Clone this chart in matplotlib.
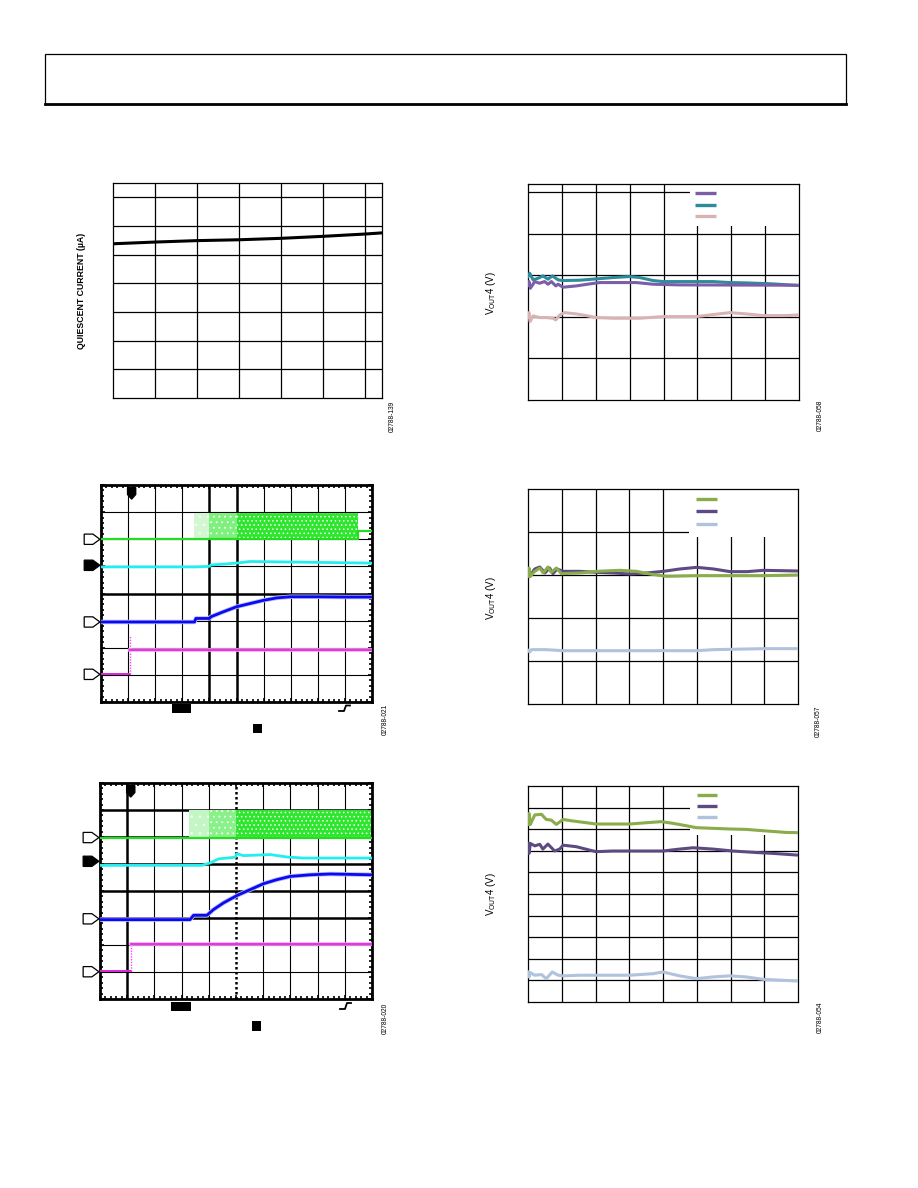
import numpy as np
import matplotlib
matplotlib.use("Agg")
import matplotlib.pyplot as plt
from matplotlib.patches import Rectangle, Polygon
from matplotlib.lines import Line2D
from matplotlib.ticker import MultipleLocator

W, H = 918, 1188
plt.rcParams['font.family'] = ['Liberation Sans', 'DejaVu Sans']
plt.rcParams['hatch.linewidth'] = 0.6

# ---- data (grid-division units) ----
# quiescent current vs. x
iq_x = [0, 1, 2, 3, 4, 5, 6, 6.4]
iq_y = [5.38, 5.44, 5.49, 5.52, 5.57, 5.64, 5.72, 5.76]

# top right: VOUT4 three series
t_teal_x = [0, 0.05, 0.15, 0.30, 0.44, 0.59, 0.72, 0.89, 1.03, 1.53, 2.02, 2.51, 3.00, 3.30, 3.69, 3.99, 5.46, 5.96, 6.45, 7.23, 8.0]
t_teal_y = [2.972, 3.052, 2.892, 2.932, 2.988, 2.908, 2.988, 2.892, 2.876, 2.884, 2.916, 2.948, 2.972, 2.948, 2.876, 2.851, 2.851, 2.827, 2.819, 2.795, 2.755]
t_purp_x = [0, 0.03, 0.07, 0.20, 0.34, 0.49, 0.59, 0.69, 0.82, 0.89, 1.03, 1.43, 1.82, 2.12, 3.20, 3.69, 4.48, 8.0]
t_purp_y = [2.771, 2.851, 2.691, 2.851, 2.811, 2.851, 2.787, 2.851, 2.747, 2.787, 2.715, 2.747, 2.795, 2.827, 2.827, 2.787, 2.771, 2.763]
t_pink_x = [0, 0.03, 0.06, 0.15, 0.34, 0.54, 0.74, 0.82, 0.94, 1.08, 1.43, 1.72, 2.02, 2.51, 3.30, 3.99, 4.97, 5.46, 5.96, 6.45, 6.94, 7.63, 8.0]
t_pink_y = [2.008, 2.104, 1.888, 2.024, 1.984, 1.984, 1.968, 1.928, 2.048, 2.104, 2.072, 2.032, 1.984, 1.968, 1.968, 2.008, 2.008, 2.056, 2.104, 2.072, 2.032, 2.032, 2.048]

# middle right
m_green_x = [0, 0.03, 0.07, 0.20, 0.35, 0.45, 0.59, 0.69, 0.84, 0.99, 1.53, 2.03, 2.72, 3.22, 3.61, 4.11, 5.0, 6.98, 8.0]
m_green_y = [2.969, 3.163, 2.969, 3.085, 3.163, 3.047, 3.186, 3.062, 3.163, 3.031, 3.047, 3.085, 3.109, 3.085, 3.023, 2.969, 2.984, 2.984, 3.0]
m_purp_x = [0, 0.05, 0.20, 0.35, 0.50, 0.64, 0.74, 0.86, 1.04, 1.53, 2.03, 2.52, 3.02, 3.51, 4.01, 4.50, 5.0, 5.50, 5.99, 6.49, 6.98, 8.0]
m_purp_y = [3.008, 2.969, 3.140, 3.186, 3.047, 3.163, 3.031, 3.140, 3.085, 3.085, 3.062, 3.047, 3.023, 3.047, 3.085, 3.140, 3.178, 3.140, 3.078, 3.078, 3.109, 3.093]
m_blue_x = [0, 0.05, 0.10, 0.54, 1.04, 5.0, 5.50, 6.49, 6.98, 8.0]
m_blue_y = [1.248, 1.209, 1.264, 1.264, 1.240, 1.240, 1.264, 1.279, 1.287, 1.287]

# bottom right
b_green_x = [0, 0.03, 0.07, 0.20, 0.40, 0.54, 0.69, 0.84, 1.04, 1.33, 1.63, 2.02, 3.01, 3.51, 3.95, 4.30, 4.69, 4.99, 5.48, 5.98, 6.47, 6.96, 7.65, 8.0]
b_green_y = [8.22, 8.73, 8.22, 8.66, 8.69, 8.45, 8.42, 8.22, 8.45, 8.38, 8.32, 8.24, 8.24, 8.30, 8.35, 8.27, 8.16, 8.07, 8.04, 8.01, 7.99, 7.93, 7.85, 7.84]
b_purp_x = [0, 0.03, 0.07, 0.20, 0.35, 0.44, 0.59, 0.79, 0.94, 1.04, 1.43, 1.83, 2.02, 2.52, 4.0, 4.49, 4.89, 5.48, 6.07, 6.77, 7.26, 8.0]
b_purp_y = [7.34, 6.88, 7.34, 7.23, 7.30, 7.08, 7.31, 6.99, 7.08, 7.26, 7.19, 7.03, 6.96, 6.99, 6.99, 7.08, 7.14, 7.08, 6.99, 6.92, 6.88, 6.80]
b_blue_x = [0, 0.03, 0.07, 0.20, 0.40, 0.54, 0.72, 0.89, 1.04, 1.53, 3.01, 3.70, 4.0, 4.49, 4.99, 5.48, 5.98, 6.47, 6.96, 8.0]
b_blue_y = [1.39, 1.16, 1.36, 1.24, 1.27, 1.08, 1.39, 1.24, 1.21, 1.24, 1.24, 1.31, 1.39, 1.21, 1.08, 1.16, 1.21, 1.16, 1.05, 0.97]

# scope shot 1 (upper)
s1_green_x = [0, 9.5, 9.5, 10]
s1_green_y = [6.0, 6.0, 6.3, 6.3]
s1_burst = [(3.42, 4.0, '#d2f7d2', '..'), (4.0, 5.0, '#7ef07e', '...'), (5.0, 9.5, '#2ee62e', '....')]
s1_burst_top = 6.95
s1_cyan_x = [0, 3.5, 4.0, 4.05, 5.0, 5.5, 7.0, 10.0]
s1_cyan_y = [4.98, 4.98, 5.0, 5.05, 5.12, 5.18, 5.16, 5.12]
s1_blue_x = [0, 3.45, 3.5, 4.0, 4.05, 4.5, 5.0, 5.5, 6.0, 6.5, 7.0, 8.0, 9.0, 10.0]
s1_blue_y = [2.95, 2.95, 3.08, 3.08, 3.14, 3.32, 3.51, 3.63, 3.75, 3.84, 3.88, 3.88, 3.87, 3.87]
s1_mag = (1.08, 1.02, 1.91, 2.46)   # step x, low, high, spike
s1_refs = [6.0, 5.04, 2.95, 1.02]

# scope shot 2 (lower)
s2_green_x = [0, 10]
s2_green_y = [5.98, 5.98]
s2_burst = [(3.29, 4.0, '#c4f5c4', '..'), (4.0, 5.0, '#8af08a', '...'), (5.0, 10.0, '#2ee62e', '....')]
s2_burst_top = 7.0
s2_cyan_x = [0, 3.75, 4.05, 4.36, 4.97, 5.03, 5.28, 6.26, 6.87, 7.48, 10.0]
s2_cyan_y = [4.95, 4.95, 5.04, 5.19, 5.25, 5.38, 5.31, 5.35, 5.26, 5.22, 5.22]
s2_blue_x = [0, 3.31, 3.44, 3.93, 4.17, 4.54, 5.03, 5.52, 6.01, 6.50, 6.99, 7.73, 8.47, 10.0]
s2_blue_y = [2.94, 2.94, 3.10, 3.10, 3.31, 3.56, 3.83, 4.05, 4.27, 4.42, 4.54, 4.60, 4.63, 4.60]
s2_mag = (1.13, 1.02, 2.05, 2.15)
s2_refs = [5.98, 5.1, 2.97, 1.01]

fig = plt.figure(figsize=(W / 100, H / 100), dpi=100)


def fx(x):
    return x / W


def fy(y):
    return 1 - y / H


def px_axes(x0, y0, x1, y1):
    return fig.add_axes([fx(x0), fy(y1), (x1 - x0) / W, (y1 - y0) / H])


def px_rect(x0, y0, x1, y1, fc='black', ec='none', lw=0):
    fig.add_artist(Rectangle((fx(x0), fy(y1)), (x1 - x0) / W, (y1 - y0) / H,
                             transform=fig.transFigure, fc=fc, ec=ec, lw=lw))


def code(x, y, s):
    fig.text(fx(x), fy(y), s, rotation=90, fontsize=4.8, ha='center', va='center')


# header box
px_rect(45, 54, 846, 104, fc='none', ec='black', lw=0.9)
fig.add_artist(Line2D([fx(45), fx(846)], [fy(104), fy(104)], color='black', lw=2.0,
                      transform=fig.transFigure))


def plain_axes(ax, xmax, ymax, xgrid, ygrid):
    ax.set_xlim(0, xmax)
    ax.set_ylim(0, ymax)
    ax.set_xticks([])
    ax.set_yticks([])
    for v in xgrid:
        ax.axvline(v, color='black', lw=0.9, zorder=1)
    for v in ygrid:
        ax.axhline(v, color='black', lw=0.9, zorder=1)
    for s in ax.spines.values():
        s.set_linewidth(0.9)


def legend_box(ax, x0, y0, ys, colors, hx):
    ax.add_patch(Rectangle((x0, y0), 1 - x0, 1 - y0, transform=ax.transAxes,
                           fc='white', ec='none', zorder=1.5))
    for y, c in zip(ys, colors):
        ax.plot(hx, [y, y], color=c, lw=2.4, transform=ax.transAxes, zorder=3,
                solid_capstyle='butt')


# ---- panel 1: quiescent current ----
ax1 = px_axes(113, 183, 382, 398)
plain_axes(ax1, 6.4, 7.5, range(1, 7), range(1, 8))
ax1.plot(iq_x, iq_y, color='black', lw=2.2, zorder=3)
fig.text(fx(81), fy(291), 'QUIESCENT CURRENT (µA)', rotation=90, fontsize=6.3,
         fontweight='bold', ha='center', va='center')
code(392, 416, '02788-139')

# ---- panel 2 ----
ax2 = px_axes(528, 184, 799, 400)
plain_axes(ax2, 8, 5.2, range(1, 8), range(1, 6))
c2 = ['#7b5ea7', '#2e8b9a', '#d9b3b3']
legend_box(ax2, 0.597, 0.807, [0.958, 0.904, 0.852], c2, [0.616, 0.694])
ax2.plot(t_pink_x, t_pink_y, color=c2[2], lw=2.2, zorder=3)
ax2.plot(t_teal_x, t_teal_y, color=c2[1], lw=2.2, zorder=3)
ax2.plot(t_purp_x, t_purp_y, color=c2[0], lw=2.2, zorder=3)
fig.text(fx(491), fy(293), r'V$_{\mathrm{OUT}}$4 (V)', rotation=90, fontsize=7,
         ha='center', va='center')
code(820, 415, '02788-058')

# ---- panel 4 ----
c46 = ['#8aac4a', '#5e4a82', '#b0c2dc']
ax4 = px_axes(528, 489, 798, 704)
plain_axes(ax4, 8, 5, range(1, 8), range(1, 5))
legend_box(ax4, 0.597, 0.775, [0.955, 0.896, 0.837], c46, [0.622, 0.700])
ax4.plot(m_blue_x, m_blue_y, color=c46[2], lw=2.2, zorder=3)
ax4.plot(m_purp_x, m_purp_y, color=c46[1], lw=2.2, zorder=3)
ax4.plot(m_green_x, m_green_y, color=c46[0], lw=2.2, zorder=3)
fig.text(fx(491), fy(598), r'V$_{\mathrm{OUT}}$4 (V)', rotation=90, fontsize=7,
         ha='center', va='center')
code(818, 721, '02788-057')

# ---- panel 6 ----
ax6 = px_axes(528, 786, 798, 1002)
plain_axes(ax6, 8, 10, range(1, 8), range(1, 10))
legend_box(ax6, 0.599, 0.773, [0.958, 0.907, 0.856], c46, [0.625, 0.699])
ax6.plot(b_blue_x, b_blue_y, color=c46[2], lw=2.2, zorder=3)
ax6.plot(b_purp_x, b_purp_y, color=c46[1], lw=2.2, zorder=3)
ax6.plot(b_green_x, b_green_y, color=c46[0], lw=2.2, zorder=3)
fig.text(fx(491), fy(894), r'V$_{\mathrm{OUT}}$4 (V)', rotation=90, fontsize=7,
         ha='center', va='center')
code(820, 1017, '02788-054')


# ---- scope panels ----
def scope(ax, thick_v, thick_h, dotted_v, green, burst, top, cyan, blue, mag, refs):
    ax.set_xlim(0, 10)
    ax.set_ylim(0, 8)
    ax.xaxis.set_major_locator(MultipleLocator(1))
    ax.yaxis.set_major_locator(MultipleLocator(1))
    ax.xaxis.set_minor_locator(MultipleLocator(0.2))
    ax.yaxis.set_minor_locator(MultipleLocator(0.2))
    ax.tick_params(which='both', direction='in', top=True, right=True,
                   labelbottom=False, labelleft=False, width=1.2)
    ax.tick_params(which='major', length=3)
    ax.tick_params(which='minor', length=2.5)
    for s in ax.spines.values():
        s.set_linewidth(2.0)
    for v in range(1, 10):
        if v in dotted_v:
            ax.axvline(v, color='black', lw=1.8, ls=(0, (1, 1)), zorder=1)
        else:
            ax.axvline(v, color='black', lw=1.8 if v in thick_v else 0.8, zorder=1)
    for v in range(1, 8):
        ax.axhline(v, color='black', lw=1.8 if v in thick_h else 0.8, zorder=1)

    base = green[1][0]
    for x0, x1, c, h in burst:
        ax.fill_between([x0, x1], [base, base], [top, top], facecolor=c,
                        edgecolor='#f4fff4', hatch=h, lw=0, zorder=2)
    ax.plot(green[0], green[1], color='#22dd22', lw=1.6, zorder=3)
    ax.plot(cyan[0], cyan[1], color='#22eeee', lw=2.0, zorder=3)
    ax.plot(blue[0], blue[1], color='#b8b8ff', lw=3.2, zorder=3)
    ax.plot(blue[0], blue[1], color='#0a0aee', lw=2.0, zorder=3)
    sx, lo, hi, sp = mag
    ax.plot([0, sx], [lo, lo], color='#dd22dd', lw=1.4, zorder=3)
    ax.plot([sx, sx], [lo, sp], color='#ff44ff', lw=1.0, ls=(0, (1, 1)), zorder=3)
    ax.plot([sx, 10], [hi, hi], color='#f0b0f0', lw=2.6, zorder=3)
    ax.plot([sx, 10], [hi, hi], color='#ee22ee', lw=1.3, zorder=3)

    # channel reference markers
    tr = ax.get_yaxis_transform()
    for i, r in enumerate(refs):
        pts = [(-0.062, r - 0.19), (-0.030, r - 0.19), (-0.004, r),
               (-0.030, r + 0.19), (-0.062, r + 0.19)]
        ax.add_patch(Polygon(pts, closed=True, transform=tr, clip_on=False,
                             fc='black' if i == 1 else 'white', ec='black', lw=0.9,
                             zorder=5))
    # trigger marker
    ax.add_patch(Polygon([(0.98, 7.9), (1.28, 7.9), (1.28, 7.65), (1.13, 7.48), (0.98, 7.65)],
                         closed=True, fc='black', ec='black', zorder=5))


ax3 = px_axes(101, 485, 372, 702)
scope(ax3, [4, 5], [4], [], (s1_green_x, s1_green_y), s1_burst, s1_burst_top,
      (s1_cyan_x, s1_cyan_y), (s1_blue_x, s1_blue_y), s1_mag, s1_refs)
px_rect(172, 704, 191, 713)
px_rect(253, 724, 262, 733)
fig.add_artist(Line2D([fx(339), fx(344), fx(346), fx(350)], [fy(711), fy(711), fy(705.5), fy(705.5)],
                      color='black', lw=1.3, transform=fig.transFigure))
code(385, 719, '02788-021')

ax5 = px_axes(100, 783, 372, 999)
scope(ax5, [1], [3, 4, 5, 6, 7], [5], (s2_green_x, s2_green_y), s2_burst, s2_burst_top,
      (s2_cyan_x, s2_cyan_y), (s2_blue_x, s2_blue_y), s2_mag, s2_refs)
px_rect(171, 1002, 191, 1011)
px_rect(252, 1021, 261, 1031)
fig.add_artist(Line2D([fx(340), fx(345), fx(347), fx(351)], [fy(1009), fy(1009), fy(1003), fy(1003)],
                      color='black', lw=1.3, transform=fig.transFigure))
code(385, 1018, '02788-020')

fig.savefig('out.png', dpi=100)
